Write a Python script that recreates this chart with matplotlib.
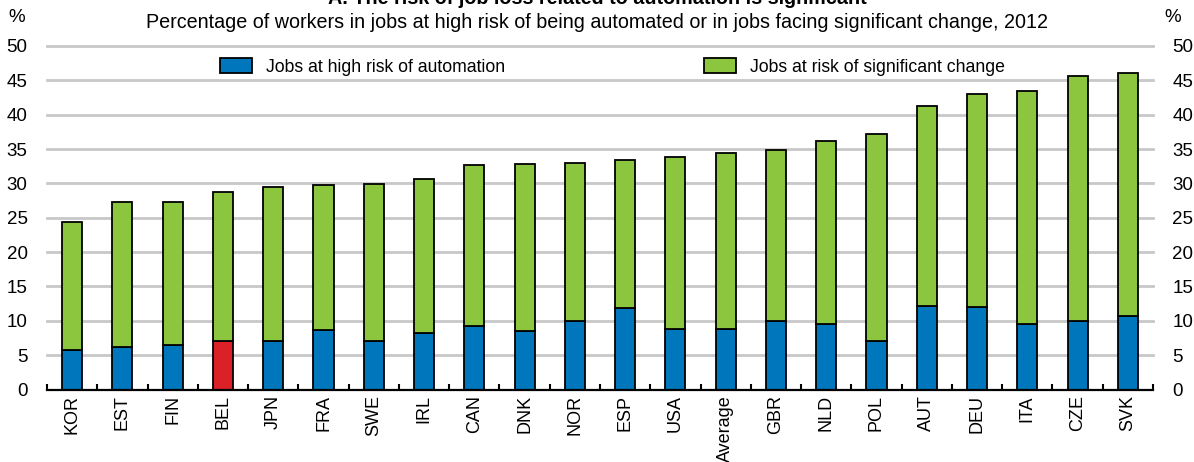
import matplotlib
matplotlib.use("Agg")
import matplotlib.pyplot as plt
import numpy as np
from matplotlib.patches import Patch
from matplotlib import font_manager

countries = ["KOR", "EST", "FIN", "BEL", "JPN", "FRA", "SWE", "IRL", "CAN", "DNK", "NOR",
             "ESP", "USA", "Average", "GBR", "NLD", "POL", "AUT", "DEU", "ITA", "CZE", "SVK"]
high_risk = [5.8, 6.15, 6.5, 7.0, 7.05, 8.65, 7.1, 8.2, 9.2, 8.5, 9.95,
             11.8, 8.8, 8.8, 10.0, 9.6, 7.1, 12.1, 12.0, 9.5, 9.9, 10.75]
total = [24.4, 27.3, 27.35, 28.7, 29.5, 29.7, 29.85, 30.6, 32.65, 32.8, 33.0,
         33.4, 33.8, 34.4, 34.8, 36.1, 37.25, 41.2, 43.05, 43.5, 45.7, 46.0]
sig_change = [t - h for t, h in zip(total, high_risk)]

title1 = "A. The risk of job loss related to automation is significant"
title2 = "Percentage of workers in jobs at high risk of being automated or in jobs facing significant change, 2012"
leg_labels = ["Jobs at high risk of automation", "Jobs at risk of significant change"]

avail = {f.name for f in font_manager.fontManager.ttflist}
fam = [f for f in ["Liberation Sans Narrow", "Liberation Sans", "DejaVu Sans"] if f in avail]
plt.rcParams['font.family'] = fam

BLUE = "#0077BD"
GREEN = "#8CC63F"
RED = "#DA2128"
GRID = "#C8C8C8"
FS = 13.5

W, H = 1194, 462
fig = plt.figure(figsize=(W / 100, H / 100), dpi=100)
ax = fig.add_axes([47 / W, 1 - 389.5 / H, (1153 - 47) / W, (389.5 - 46) / H])

x = np.arange(len(countries))
colors_low = [RED if c == "BEL" else BLUE for c in countries]
ax.bar(x, high_risk, width=0.4, color=colors_low, edgecolor="black", linewidth=1.3, zorder=3)
ax.bar(x, sig_change, bottom=high_risk, width=0.4, color=GREEN, edgecolor="black", linewidth=1.3, zorder=3)

ax.set_xlim(-0.5, len(countries) - 0.5)
ax.set_ylim(0, 50)
ax.set_yticks(np.arange(0, 51, 5))
for v in range(5, 51, 5):
    ax.axhline(v, color=GRID, linewidth=2.0, zorder=1, clip_on=False)

for s in ["left", "right", "top"]:
    ax.spines[s].set_visible(False)
ax.spines["bottom"].set_linewidth(1.6)
ax.spines["bottom"].set_zorder(4)

ax.set_xticks(x)
ax.set_xticklabels(countries, rotation=90, fontsize=13)
ax.tick_params(axis="x", which="major", length=0, pad=4)
ax.set_xticks(np.arange(-0.5, len(countries), 1), minor=True)
ax.tick_params(axis="x", which="minor", direction="in", length=4, width=1.5)

ax.tick_params(axis="y", which="both", length=0, labelsize=FS,
               labelleft=True, labelright=True, right=False)
for t in ax.yaxis.get_major_ticks():
    t.set_pad(14)
ax.yaxis.set_tick_params(which="major", pad=14)

fig.text(17 / W, 1 - 17 / H, "%", ha="center", va="center", fontsize=FS)
fig.text(1173 / W, 1 - 17 / H, "%", ha="center", va="center", fontsize=FS)

fig.text(0.5, 1 - 4 / H, title1, ha="center", va="baseline", fontsize=14.2, fontweight="bold")
fig.text(0.5, 1 - 22 / H, title2, ha="center", va="center", fontsize=14.2)

handles = [Patch(facecolor=BLUE, edgecolor="black", linewidth=1.3),
           Patch(facecolor=GREEN, edgecolor="black", linewidth=1.3)]
LFS = 12.7
fpx = LFS * 100 / 72
fig.legend(handles, leg_labels, loc="center left", bbox_to_anchor=(220 / W, 1 - 67 / H),
           ncol=2, frameon=False, fontsize=LFS, borderpad=0, borderaxespad=0,
           handlelength=32 / fpx, handleheight=15 / fpx, handletextpad=14 / fpx,
           columnspacing=199 / fpx)

fig.savefig("out.png", dpi=100)
